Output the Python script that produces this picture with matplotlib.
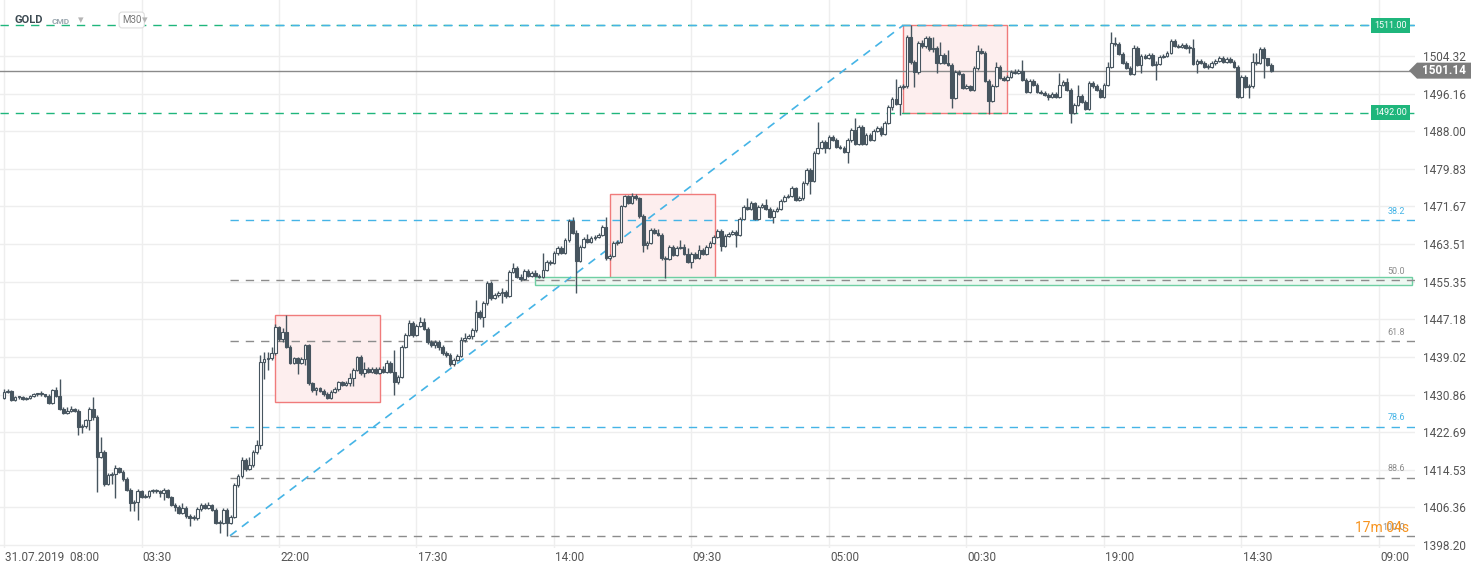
import matplotlib
matplotlib.use("Agg")
import matplotlib.pyplot as plt
import matplotlib.transforms as mtransforms
from matplotlib.patches import Rectangle, Polygon

plt.rcParams['font.family'] = ['Roboto', 'DejaVu Sans']

# GOLD, M30 candles (open of each bar = previous close)
first_open = 1430.1
close = [
    1431.4, 1431.6, 1429.7, 1430.3, 1430.3, 1429.9, 1430.1, 1430.5, 1431.0, 1431.0,
    1431.0, 1430.5, 1429.0, 1431.8, 1430.5, 1427.7, 1426.9, 1427.3, 1427.7, 1427.3,
    1423.8, 1424.0, 1425.3, 1427.7, 1426.0, 1417.3, 1418.4, 1411.4, 1413.4, 1413.6,
    1414.9, 1414.0, 1412.5, 1410.1, 1407.3, 1407.5, 1409.9, 1408.6, 1408.8, 1409.9,
    1409.9, 1409.9, 1409.5, 1410.1, 1408.6, 1406.9, 1406.5, 1405.2, 1406.2, 1404.5,
    1404.1, 1404.1, 1406.0, 1406.9, 1406.2, 1406.9, 1405.8, 1403.0, 1403.0, 1405.8,
    1403.0, 1404.3, 1411.2, 1413.2, 1416.7, 1414.7, 1415.6, 1418.4, 1419.9, 1437.9,
    1438.6, 1438.8, 1439.9, 1445.5, 1442.9, 1444.4, 1441.2, 1437.7, 1438.8, 1437.7,
    1438.6, 1441.6, 1433.4, 1431.8, 1432.3, 1431.6, 1431.0, 1430.1, 1431.4, 1432.1,
    1433.6, 1432.9, 1433.4, 1434.4, 1436.2, 1439.0, 1435.5, 1436.4, 1435.8, 1436.4,
    1435.5, 1436.4, 1435.8, 1437.7, 1435.8, 1433.6, 1434.7, 1441.2, 1443.8, 1446.4,
    1443.8, 1445.7, 1446.6, 1445.1, 1442.3, 1441.6, 1442.3, 1441.2, 1439.9, 1439.4,
    1437.5, 1438.4, 1439.2, 1442.7, 1443.1, 1443.6, 1444.9, 1448.8, 1447.7, 1450.7,
    1455.1, 1451.8, 1452.5, 1452.9, 1453.1, 1452.2, 1457.4, 1458.3, 1456.4, 1455.9,
    1457.7, 1456.6, 1457.2, 1456.6, 1456.4, 1457.9, 1459.6, 1459.4, 1461.6, 1462.6,
    1461.6, 1464.4, 1468.5, 1465.9, 1459.8, 1462.9, 1464.6, 1464.0, 1464.8, 1465.0,
    1465.5, 1467.2, 1460.5, 1460.9, 1463.7, 1464.0, 1471.8, 1474.0, 1472.4, 1474.0,
    1473.5, 1469.6, 1463.3, 1463.7, 1466.6, 1465.9, 1465.5, 1460.5, 1460.3, 1462.9,
    1461.1, 1462.6, 1462.9, 1461.4, 1459.6, 1461.4, 1460.5, 1462.2, 1461.4, 1462.9,
    1463.7, 1465.0, 1466.3, 1463.1, 1465.3, 1465.7, 1466.1, 1465.5, 1469.0, 1471.6,
    1471.1, 1472.4, 1469.0, 1471.6, 1472.0, 1471.1, 1469.4, 1470.7, 1471.1, 1472.9,
    1473.7, 1474.0, 1475.7, 1473.1, 1473.5, 1476.8, 1479.6, 1477.2, 1483.3, 1484.4,
    1485.7, 1484.4, 1486.7, 1486.1, 1484.6, 1484.4, 1483.5, 1486.1, 1488.3, 1485.2,
    1488.9, 1485.2, 1487.2, 1486.1, 1488.0, 1488.7, 1487.4, 1489.8, 1493.2, 1495.0,
    1493.9, 1497.6, 1497.8, 1508.4, 1503.0, 1500.8, 1507.1, 1506.5, 1508.2, 1505.8,
    1506.1, 1502.8, 1504.5, 1502.8, 1502.4, 1495.2, 1500.8, 1500.4, 1497.4, 1497.8,
    1496.9, 1501.7, 1505.4, 1505.0, 1498.9, 1494.6, 1497.8, 1501.9, 1499.5, 1499.1,
    1499.8, 1500.8, 1500.6, 1501.1, 1499.1, 1496.5, 1498.9, 1498.0, 1496.5, 1496.3,
    1495.9, 1495.4, 1496.1, 1495.4, 1498.0, 1498.7, 1496.9, 1492.0, 1493.7, 1495.6,
    1494.3, 1492.8, 1498.5, 1497.8, 1496.9, 1495.4, 1498.0, 1501.9, 1507.1, 1506.9,
    1504.8, 1502.8, 1501.7, 1500.4, 1506.1, 1502.4, 1504.3, 1503.9, 1504.5, 1502.4,
    1502.6, 1504.1, 1504.3, 1505.0, 1507.6, 1506.5, 1506.3, 1506.7, 1506.1, 1506.1,
    1502.6, 1503.2, 1502.8, 1501.9, 1501.9, 1502.8, 1503.2, 1503.9, 1503.0, 1503.7,
    1503.0, 1501.9, 1495.4, 1499.8, 1497.6, 1497.8, 1503.0, 1502.8, 1505.8, 1503.9,
    1502.4, 1501.14,
]
high = [
    1432.1, 1432.1, 1431.8, 1430.5, 1430.5, 1430.5, 1430.3, 1430.8, 1431.2, 1431.2,
    1431.6, 1431.0, 1431.0, 1432.1, 1432.5, 1434.2, 1428.2, 1428.2, 1428.4, 1427.9,
    1427.7, 1424.5, 1425.5, 1428.2, 1430.3, 1426.4, 1421.6, 1418.8, 1413.8, 1414.0,
    1415.6, 1415.1, 1414.5, 1413.0, 1410.6, 1408.0, 1410.4, 1410.1, 1409.3, 1410.1,
    1410.4, 1410.4, 1410.1, 1410.6, 1410.4, 1408.8, 1407.3, 1406.9, 1407.3, 1406.7,
    1404.9, 1404.7, 1406.5, 1407.3, 1407.3, 1407.5, 1407.1, 1406.2, 1403.6, 1406.2,
    1406.2, 1404.7, 1411.7, 1413.6, 1417.3, 1417.1, 1417.3, 1418.8, 1421.0, 1439.4,
    1440.1, 1440.1, 1441.2, 1446.2, 1445.7, 1445.3, 1448.1, 1441.6, 1439.0, 1439.0,
    1439.0, 1441.8, 1441.8, 1433.6, 1432.5, 1432.5, 1432.1, 1431.4, 1431.8, 1432.5,
    1433.8, 1433.8, 1433.8, 1435.5, 1436.6, 1439.2, 1439.4, 1437.9, 1436.8, 1436.8,
    1436.8, 1436.8, 1437.1, 1438.4, 1438.1, 1440.5, 1435.1, 1441.6, 1444.2, 1447.0,
    1446.8, 1446.2, 1447.7, 1447.5, 1445.5, 1442.7, 1442.7, 1442.7, 1441.6, 1440.3,
    1439.9, 1438.8, 1439.7, 1443.3, 1444.2, 1444.0, 1445.3, 1451.4, 1449.2, 1451.1,
    1455.5, 1455.5, 1452.9, 1453.3, 1454.0, 1453.5, 1457.9, 1459.4, 1458.8, 1457.0,
    1458.1, 1458.1, 1457.7, 1457.9, 1457.0, 1461.6, 1460.1, 1460.1, 1462.0, 1463.1,
    1463.1, 1464.8, 1469.0, 1469.4, 1466.6, 1463.3, 1465.0, 1465.7, 1465.3, 1465.5,
    1465.9, 1467.6, 1469.4, 1461.4, 1464.2, 1464.4, 1472.0, 1474.2, 1474.2, 1474.6,
    1474.4, 1473.7, 1470.0, 1464.2, 1467.0, 1467.0, 1466.8, 1465.9, 1460.9, 1463.3,
    1463.3, 1463.1, 1464.4, 1463.5, 1462.6, 1461.8, 1461.8, 1463.3, 1462.6, 1463.3,
    1464.2, 1465.5, 1466.8, 1466.8, 1465.7, 1466.1, 1466.6, 1466.6, 1469.4, 1472.0,
    1473.5, 1472.9, 1472.6, 1472.0, 1472.4, 1473.3, 1471.6, 1471.1, 1471.6, 1473.3,
    1474.2, 1474.4, 1476.1, 1475.9, 1474.0, 1477.2, 1480.0, 1480.0, 1483.7, 1490.0,
    1486.1, 1486.1, 1487.2, 1487.2, 1486.5, 1485.0, 1484.8, 1486.5, 1488.7, 1490.9,
    1489.4, 1489.4, 1487.6, 1487.6, 1488.5, 1489.1, 1489.1, 1490.2, 1493.7, 1495.4,
    1499.3, 1498.0, 1498.2, 1508.9, 1511.0, 1503.4, 1507.6, 1507.8, 1508.7, 1508.7,
    1508.4, 1506.5, 1507.4, 1505.0, 1505.6, 1502.8, 1501.3, 1501.3, 1500.6, 1498.2,
    1498.0, 1502.1, 1506.7, 1506.1, 1505.4, 1499.3, 1498.2, 1503.0, 1502.4, 1500.0,
    1500.2, 1501.3, 1501.5, 1501.5, 1503.4, 1499.5, 1499.3, 1499.3, 1498.5, 1496.9,
    1496.7, 1496.3, 1496.5, 1496.5, 1500.6, 1499.1, 1499.5, 1497.4, 1494.1, 1498.0,
    1496.1, 1494.8, 1498.9, 1498.9, 1498.2, 1497.4, 1498.5, 1503.0, 1509.5, 1508.4,
    1507.4, 1505.2, 1503.2, 1502.1, 1506.7, 1506.5, 1504.8, 1504.8, 1505.0, 1505.0,
    1503.2, 1504.5, 1504.8, 1505.4, 1508.0, 1508.0, 1507.0, 1507.1, 1507.1, 1506.7,
    1508.0, 1503.7, 1503.7, 1503.2, 1502.6, 1503.2, 1503.7, 1504.3, 1504.3, 1504.1,
    1504.1, 1503.4, 1502.4, 1500.2, 1500.2, 1498.2, 1505.0, 1505.0, 1506.3, 1506.3,
    1503.5, 1502.8,
]
low = [
    1429.9, 1431.2, 1429.5, 1429.5, 1429.9, 1429.7, 1429.7, 1429.9, 1430.3, 1430.5,
    1430.5, 1430.3, 1428.8, 1428.8, 1430.3, 1427.5, 1426.6, 1426.6, 1427.1, 1427.1,
    1422.1, 1422.5, 1423.6, 1423.2, 1425.3, 1409.7, 1417.1, 1411.0, 1411.2, 1411.4,
    1408.4, 1413.8, 1412.1, 1409.9, 1405.6, 1405.6, 1403.6, 1408.4, 1408.4, 1408.4,
    1409.5, 1409.5, 1408.6, 1408.0, 1408.4, 1406.7, 1405.6, 1404.9, 1404.9, 1404.1,
    1402.3, 1403.6, 1403.6, 1405.6, 1406.0, 1406.0, 1405.6, 1402.8, 1400.8, 1402.8,
    1400.2, 1402.8, 1404.1, 1410.8, 1412.7, 1414.3, 1414.5, 1415.1, 1418.0, 1419.0,
    1434.2, 1436.2, 1438.4, 1439.4, 1442.5, 1442.3, 1441.0, 1437.5, 1437.5, 1435.3,
    1437.5, 1437.3, 1432.9, 1431.4, 1430.8, 1431.4, 1430.5, 1429.9, 1429.9, 1431.2,
    1431.6, 1432.7, 1432.7, 1432.7, 1432.7, 1436.0, 1435.1, 1434.7, 1435.5, 1435.5,
    1435.3, 1435.3, 1435.5, 1435.5, 1435.5, 1430.8, 1433.1, 1434.4, 1441.0, 1443.6,
    1443.3, 1443.6, 1445.5, 1444.9, 1441.8, 1441.2, 1441.0, 1440.5, 1439.4, 1439.0,
    1437.1, 1437.1, 1438.1, 1439.0, 1442.3, 1442.9, 1442.9, 1444.4, 1447.2, 1445.5,
    1450.3, 1451.4, 1451.6, 1452.0, 1450.7, 1451.8, 1452.0, 1457.2, 1456.1, 1455.5,
    1455.7, 1456.4, 1456.4, 1456.4, 1456.1, 1456.1, 1457.7, 1459.0, 1459.2, 1461.1,
    1461.4, 1461.4, 1464.0, 1465.7, 1452.9, 1459.6, 1462.6, 1463.7, 1463.7, 1464.4,
    1464.8, 1465.3, 1460.1, 1460.1, 1460.7, 1463.3, 1463.7, 1471.6, 1472.2, 1472.2,
    1473.1, 1469.2, 1461.8, 1462.4, 1463.5, 1465.7, 1465.3, 1460.1, 1456.1, 1460.1,
    1460.9, 1460.9, 1462.4, 1461.1, 1459.4, 1458.3, 1460.3, 1460.3, 1461.1, 1461.1,
    1462.6, 1463.5, 1464.8, 1462.0, 1462.9, 1465.0, 1465.5, 1462.9, 1465.3, 1468.7,
    1470.9, 1470.9, 1468.7, 1468.7, 1471.3, 1470.9, 1469.2, 1468.1, 1470.5, 1470.9,
    1472.6, 1473.5, 1473.7, 1472.9, 1472.9, 1473.1, 1476.3, 1474.4, 1477.0, 1483.1,
    1484.2, 1483.3, 1484.2, 1485.9, 1484.4, 1484.2, 1483.3, 1481.1, 1485.7, 1485.0,
    1485.0, 1485.0, 1485.0, 1485.9, 1485.9, 1487.8, 1487.0, 1487.2, 1489.6, 1492.6,
    1493.7, 1491.5, 1497.2, 1497.4, 1502.6, 1497.6, 1500.4, 1506.1, 1506.1, 1505.4,
    1505.2, 1500.6, 1502.6, 1502.6, 1502.2, 1493.0, 1495.0, 1500.2, 1497.2, 1497.2,
    1496.7, 1496.7, 1501.3, 1504.8, 1498.7, 1491.7, 1494.3, 1497.6, 1499.3, 1498.9,
    1498.9, 1499.5, 1500.4, 1500.4, 1498.9, 1496.3, 1496.3, 1497.8, 1496.3, 1496.1,
    1495.6, 1494.8, 1495.2, 1495.2, 1495.2, 1497.8, 1496.7, 1489.8, 1491.7, 1493.5,
    1494.1, 1492.6, 1492.6, 1497.4, 1496.7, 1495.2, 1495.2, 1497.8, 1501.7, 1506.5,
    1504.5, 1502.6, 1501.5, 1500.2, 1500.2, 1502.2, 1500.6, 1503.7, 1503.7, 1502.2,
    1499.1, 1502.4, 1503.9, 1504.1, 1504.8, 1506.3, 1506.1, 1506.1, 1505.8, 1505.0,
    1502.4, 1500.6, 1502.6, 1501.7, 1501.5, 1501.7, 1502.4, 1503.0, 1502.8, 1502.8,
    1502.8, 1501.7, 1495.2, 1495.2, 1497.4, 1495.2, 1497.4, 1502.4, 1502.6, 1499.5,
    1502.2, 1500.9,
]

time_labels = ["31.07.2019  08:00", "03:30", "22:00", "17:30", "14:00", "09:30",
               "05:00", "00:30", "19:00", "14:30", "09:00"]
bars_per_label = 37
price_ticks = [1398.20, 1406.36, 1414.53, 1422.69, 1430.86, 1439.02, 1447.18,
               1455.35, 1463.51, 1471.67, 1479.83, 1488.00, 1496.16, 1504.32]

# fibonacci retracement drawn from the swing low to the swing high
fib_low, fib_high = 1400.2, 1511.0
fib_from, fib_to = 60.8, 242.0
fib_levels = [38.2, 50.0, 61.8, 78.6, 88.6, 100.0]
fib_blue = [38.2, 78.6]

# consolidation boxes: (start bar, end bar, bottom, top)
boxes = [(72.9, 101.2, 1429.2, 1448.1),
         (163.1, 191.3, 1455.5, 1474.4),
         (241.9, 269.9, 1492.0, 1511.0)]
zone = (142.9, 378.9, 1454.6, 1456.4)
hlines = [1511.0, 1492.0]

candle_col = '#47555f'
blue = '#45b4e6'
green = '#1fb67c'
gray_dash = '#8c8c8c'

opens = [first_open] + close[:-1]
n = len(close)
xs = list(range(n))

fig = plt.figure(figsize=(14.82, 5.74), dpi=100)
ax = fig.add_axes([0, 26 / 574, 1415 / 1482, 548 / 574])
ax.set_xlim(-1.08, 379.7)
ax.set_ylim(1397.55, 1516.47)
for s in ax.spines.values():
    s.set_visible(False)

# grid
for p in price_ticks:
    ax.axhline(p, color='#eeeeee', lw=1, zorder=0)
for k in range(len(time_labels)):
    ax.axvline(k * bars_per_label, color='#eeeeee', lw=1, zorder=0)

# boxes
for x0, x1, b, t in boxes:
    ax.add_patch(Rectangle((x0, b), x1 - x0, t - b, facecolor='#fdeeee',
                           edgecolor='#f07b7b', lw=1, zorder=1))
ax.add_patch(Rectangle((zone[0], zone[2]), zone[1] - zone[0], zone[3] - zone[2],
                       facecolor='#eef8f2', edgecolor='#6fcfa3', lw=1, zorder=1))

# horizontal levels
for lvl in hlines:
    ax.axhline(lvl, color=green, lw=1, dashes=(6, 5), zorder=2)
ax.axhline(close[-1], color='#8a8a8a', lw=1, zorder=2)

# fibonacci
trans_lbl = mtransforms.blended_transform_factory(ax.transAxes, ax.transData)
ax.plot([fib_from, fib_to], [fib_low, fib_high], color=blue, lw=1.2,
        dashes=(5, 4), zorder=2)
ax.plot([fib_from, 379.7], [fib_high, fib_high], color=blue, lw=1,
        dashes=(6, 5), zorder=2)
for lv in fib_levels:
    price = fib_high - (fib_high - fib_low) * lv / 100
    col = blue if lv in fib_blue else gray_dash
    ax.plot([fib_from, 379.7], [price, price], color=col, lw=1,
            dashes=(6, 5), zorder=2)
    ax.text(0.993, price + 0.9, f'{lv:.1f}', transform=trans_lbl, ha='right',
            va='bottom', fontsize=6.5, color=col, zorder=6)

# candles
ax.vlines(xs, low, high, color=candle_col, lw=1, zorder=3)
bottoms = [min(o, c) for o, c in zip(opens, close)]
heights = [max(abs(c - o), 0.2) for o, c in zip(opens, close)]
faces = ['white' if c >= o else candle_col for o, c in zip(opens, close)]
ax.bar(xs, heights, bottom=bottoms, width=0.72, color=faces,
       edgecolor=candle_col, linewidth=0.8, zorder=4)

# right axis
ax.yaxis.tick_right()
ax.set_yticks(price_ticks)
ax.set_yticklabels([f'{p:.2f}' for p in price_ticks])
ax.tick_params(axis='y', length=0, pad=6, labelsize=8.5, labelcolor='#555555')
ax.set_xticks([])

# time labels
trans_x = mtransforms.blended_transform_factory(ax.transData, ax.transAxes)
for k, lab in enumerate(time_labels):
    ax.text(k * bars_per_label + 0.3, -0.017, lab, transform=trans_x, ha='left',
            va='center', fontsize=8.5, color='#555555', clip_on=False)

# level tags
for lvl in hlines:
    ax.text(0.9825, lvl, f'{lvl:.2f}', transform=trans_lbl, ha='center', va='center',
            fontsize=6.5, color='white', zorder=7,
            bbox=dict(boxstyle='square,pad=0.35', fc=green, ec='none'))

# countdown
ax.text(0.996, fib_low + 1.6, '17m 04s', transform=trans_lbl, ha='right', va='center',
        fontsize=10, color='#f7931e', zorder=7)

# last price tag (display pixels)
fig.canvas.draw()
_, yp = ax.transData.transform((0, close[-1]))
tag = Polygon([(1409, yp), (1417, yp + 8), (1471, yp + 8), (1471, yp - 8), (1417, yp - 8)],
              closed=True, transform=mtransforms.IdentityTransform(),
              facecolor='#7d7d7d', edgecolor='none', zorder=10)
fig.add_artist(tag)
fig.text(1444 / 1482, yp / 574, f'{close[-1]:.2f}', ha='center', va='center',
         fontsize=8.5, fontweight='bold', color='white', zorder=11)

# header
fig.text(14 / 1482, 1 - 20 / 574, 'GOLD', fontsize=8, fontweight='bold', color='#3d4a52',
         va='center')
fig.text(52 / 1482, 1 - 21 / 574, 'CMD', fontsize=6, fontweight='bold', color='#9aa6ae',
         va='center')
fig.text(78 / 1482, 1 - 20 / 574, '▾', fontsize=8, color='#b5b5b5', va='center',
         family='DejaVu Sans')
fig.text(122 / 1482, 1 - 20 / 574, 'M30', fontsize=7, color='#777777', va='center',
         bbox=dict(boxstyle='round,pad=0.3', fc='white', ec='#dddddd', lw=0.8))
fig.text(142 / 1482, 1 - 20 / 574, '▾', fontsize=8, color='#b5b5b5', va='center',
         family='DejaVu Sans')

fig.savefig('out.png', dpi=100)
